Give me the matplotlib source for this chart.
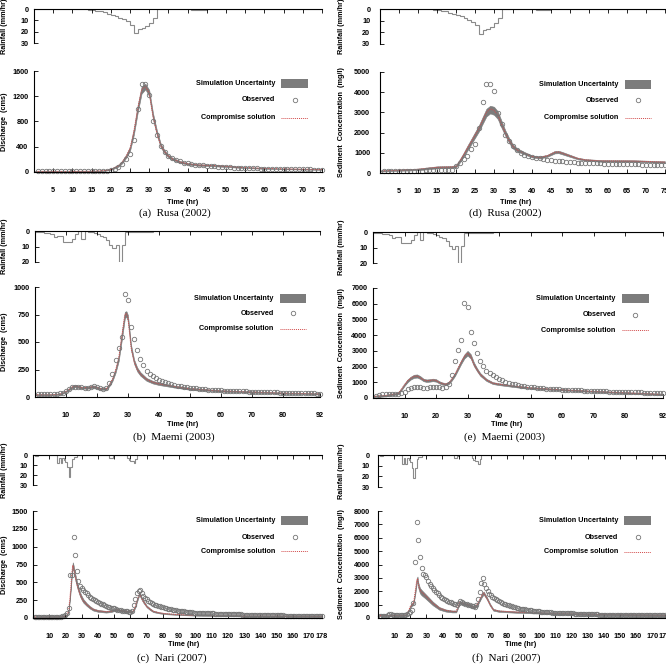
import numpy as np
import matplotlib
matplotlib.use('Agg')
import matplotlib.pyplot as plt
from matplotlib.patches import Rectangle
from matplotlib.lines import Line2D

#==========[Data]==========#
# ---- Rusa (2002), 75 h ----
rusa_rain_edges = [0, 14, 15, 16, 17, 18, 19, 20, 21, 22, 23, 24, 25, 26, 27, 28, 29, 30, 31, 32, 41, 43, 44, 45, 75]
rusa_rain = [0, 0.5, 1, 1.5, 2, 3, 4, 5, 6, 8, 9, 11, 14, 21, 18, 17, 15, 12, 8, 0, 1, 0.5, 1, 0]

rusa_q_obs = [12, 12, 12, 12, 12, 12, 12, 12, 12, 12,
              12, 12, 12, 12, 13, 14, 15, 18, 22, 35,
              50, 80, 130, 210, 290, 510, 1000, 1390, 1390, 1220,
              800, 590, 415, 310, 260, 220, 190, 170, 150, 135,
              125, 115, 110, 105, 100, 95, 90, 85, 80, 75,
              72, 70, 67, 64, 62, 60, 58, 56, 54, 52,
              50, 49, 48, 47, 46, 45, 44, 43, 42, 41,
              40, 40, 39, 39, 38]
rusa_q_t = [0, 5, 10, 15, 18, 20, 22, 23, 24, 25, 26, 27, 28, 29, 30, 31, 32, 33, 34, 35, 36, 38, 40, 43, 46, 50, 55, 60, 65, 70, 75]
rusa_q_comp = [10, 10, 10, 12, 20, 40, 100, 160, 250, 370, 640, 1000, 1300, 1360, 1250, 880, 620, 420, 320, 250, 210, 160, 130, 110, 105, 90, 70, 58, 50, 45, 40]
rusa_q_lo = [5, 5, 5, 8, 15, 32, 85, 140, 225, 335, 590, 940, 1240, 1310, 1200, 830, 580, 390, 295, 230, 192, 145, 118, 98, 93, 80, 62, 51, 44, 39, 34]
rusa_q_hi = [15, 15, 15, 18, 26, 48, 115, 180, 275, 405, 690, 1060, 1350, 1400, 1300, 930, 660, 450, 345, 270, 228, 175, 142, 122, 116, 100, 78, 65, 56, 51, 46]

rusa_s_obs = [100, 100, 100, 95, 95, 95, 100, 100, 105, 110,
              120, 130, 140, 150, 155, 160, 160, 165, 170, 330,
              490, 690, 820, 1200, 1440, 2245, 3525, 4390, 4420, 4065,
              2980, 2410, 1885, 1590, 1345, 1150, 1000, 900, 850, 800,
              760, 720, 690, 660, 630, 610, 590, 570, 550, 530,
              520, 510, 500, 495, 490, 485, 480, 475, 470, 465,
              460, 455, 450, 445, 440, 435, 430, 425, 420, 415,
              410, 400, 395, 390, 380]
rusa_s_t = [0, 5, 10, 15, 19, 20, 21, 22, 23, 24, 25, 26, 27, 28, 29, 30, 31, 32, 33, 34, 35, 36, 37, 38, 40, 42, 44, 46, 47, 48, 50, 52, 54, 58, 67, 75]
rusa_s_comp = [100, 140, 180, 280, 300, 330, 600, 900, 1230, 1550, 1880, 2200, 2600, 3000, 3180, 3100, 2870, 2400, 1970, 1600, 1310, 1150, 1065, 980, 820, 770, 850, 1030, 1040, 980, 850, 720, 650, 600, 590, 540]
rusa_s_lo = [70, 110, 140, 230, 250, 270, 520, 800, 1110, 1420, 1740, 2050, 2430, 2800, 2950, 2880, 2670, 2230, 1830, 1480, 1210, 1070, 995, 920, 770, 720, 800, 970, 980, 920, 800, 680, 610, 560, 550, 500]
rusa_s_hi = [130, 170, 220, 330, 350, 390, 680, 1000, 1350, 1680, 2020, 2350, 2770, 3180, 3330, 3280, 3050, 2570, 2100, 1720, 1410, 1230, 1135, 1040, 870, 820, 900, 1090, 1100, 1040, 900, 760, 690, 640, 630, 580]

# ---- Maemi (2003), 92 h ----
maemi_rain_edges = [0, 3, 5, 6, 7, 9, 12, 13, 14, 15, 16, 17, 19, 20, 21, 22, 23, 24, 25, 26, 27, 28, 29, 38, 92]
maemi_rain = [0.5, 1.5, 2, 4, 3, 7, 5, 2, 0, 5, 0.3, 0.5, 1.5, 2, 3, 4, 6, 9, 11, 9, 20, 9, 0.7, 0]

maemi_q_obs = [25, 26, 27, 27, 28, 28, 30, 32, 40, 55,
               75, 90, 95, 92, 88, 82, 85, 95, 97, 90,
               80, 75, 85, 130, 210, 335, 450, 550, 940, 880,
               640, 530, 430, 350, 290, 240, 210, 190, 170, 155,
               145, 135, 125, 118, 110, 104, 98, 93, 89, 85,
               82, 79, 76, 73, 70, 68, 66, 64, 62, 60,
               58, 57, 56, 55, 54, 53, 52, 51, 50, 49,
               48, 47, 46, 45, 44, 43, 42, 41, 40, 39,
               38, 37, 37, 36, 35, 35, 34, 33, 33, 32, 31, 30]
maemi_q_t = [0, 5, 8, 10, 12, 13, 15, 17, 19, 21, 23, 24, 25, 26, 27, 28, 29, 29.5, 30, 31, 32, 33, 34, 36, 38, 40, 45, 50, 60, 70, 80, 92]
maemi_q_comp = [20, 20, 25, 50, 90, 100, 85, 85, 95, 75, 75, 110, 160, 240, 350, 550, 750, 760, 720, 450, 320, 250, 210, 160, 135, 120, 95, 75, 55, 45, 35, 28]
maemi_q_lo = [15, 15, 20, 42, 80, 90, 76, 76, 85, 66, 66, 98, 145, 220, 325, 515, 715, 730, 690, 425, 300, 232, 194, 147, 123, 109, 86, 67, 49, 39, 30, 23]
maemi_q_hi = [25, 25, 30, 58, 100, 110, 94, 94, 105, 84, 84, 122, 175, 260, 375, 585, 775, 780, 745, 475, 340, 268, 226, 173, 147, 131, 104, 83, 61, 51, 40, 33]

maemi_s_obs = [150, 200, 250, 250, 260, 260, 270, 280, 300, 400,
               550, 650, 700, 700, 680, 650, 650, 700, 730, 720,
               680, 650, 700, 900, 1480, 2330, 3050, 3700, 6050, 5800,
               4230, 3480, 2880, 2380, 2020, 1750, 1600, 1450, 1320, 1200,
               1120, 1050, 980, 920, 870, 830, 790, 760, 730, 700,
               680, 660, 640, 620, 600, 590, 570, 560, 550, 540,
               530, 520, 510, 500, 490, 480, 470, 460, 455, 450,
               440, 430, 425, 420, 410, 405, 400, 390, 385, 380,
               375, 370, 365, 360, 355, 350, 345, 340, 335, 330, 320, 310]
maemi_s_t = [0, 4, 8, 9, 10, 11, 12, 13, 14, 15, 16, 17, 18, 19, 20, 21, 22, 23, 24, 25, 26, 27, 28, 29, 30, 31, 32, 33, 34, 36, 38, 40, 45, 50, 60, 70, 80, 92]
maemi_s_comp = [100, 150, 300, 550, 850, 1100, 1270, 1380, 1400, 1300, 1150, 1100, 1120, 1150, 1120, 1000, 920, 880, 950, 1200, 1500, 1900, 2300, 2650, 2850, 2650, 2150, 1800, 1500, 1150, 950, 880, 740, 640, 520, 420, 330, 230]
maemi_s_lo = [60, 100, 240, 480, 770, 1010, 1180, 1280, 1300, 1210, 1070, 1020, 1040, 1070, 1040, 930, 850, 810, 880, 1110, 1400, 1790, 2180, 2520, 2700, 2510, 2030, 1700, 1410, 1080, 890, 820, 690, 590, 480, 380, 290, 190]
maemi_s_hi = [140, 200, 360, 620, 930, 1190, 1360, 1480, 1500, 1390, 1230, 1180, 1200, 1230, 1200, 1070, 990, 950, 1020, 1290, 1600, 2010, 2420, 2780, 3000, 2790, 2270, 1900, 1590, 1220, 1010, 940, 790, 690, 560, 460, 370, 270]

# ---- Nari (2007), 178 h ----
nari_rain_edges = [0, 1, 3, 15, 16, 17, 18, 19, 20, 21, 22, 23, 24, 25, 27, 47, 49, 50, 58, 59, 60, 62, 63, 64, 178]
nari_rain = [0, 1, 0, 8, 3, 8, 3, 5, 7, 12, 22, 12, 4, 1.5, 0, 2.5, 1, 0.3, 3, 5, 6, 8, 4, 0]

nari_q_obs = [15, 15, 15, 15, 15, 15, 15, 16, 16, 16,
              17, 17, 17, 18, 18, 19, 20, 22, 28, 40,
              65, 140, 600, 600, 1140, 880, 660, 520, 450, 420,
              390, 370, 345, 320, 300, 285, 270, 255, 240, 225,
              210, 200, 190, 176, 168, 160, 153, 146, 140, 135,
              125, 118, 112, 107, 103, 99, 95, 92, 90, 88,
              95, 176, 260, 348, 380, 395, 348, 311, 285, 265,
              240, 218, 205, 195, 186, 178, 170, 163, 155, 150,
              145, 139, 133, 128, 122, 116, 112, 108, 105, 102,
              99, 96, 93, 90, 87, 84, 82, 79, 77, 75,
              74, 73, 72, 71, 70, 69, 68, 67, 66, 65,
              64, 63, 62, 61, 60, 59, 58, 57, 57, 56,
              56, 55, 55, 54, 53, 52, 51, 50, 49, 48,
              47, 46, 46, 45, 45, 44, 44, 43, 43, 42,
              42, 42, 41, 41, 40, 40, 39, 39, 38, 38,
              37, 37, 36, 36, 35, 35, 35, 34, 34, 34,
              33, 33, 33, 32, 32, 32, 31, 31, 31, 30,
              30, 30, 29, 29, 29, 28, 28, 28]
nari_q_t = [0, 10, 18, 20, 21, 22, 23, 24, 24.5, 25, 26, 27, 28, 29, 30, 31, 33, 35, 37, 40, 45, 48, 50, 52, 55, 58, 61, 62, 63, 64,
            65, 65.5, 66, 67, 68, 70, 72, 74, 78, 82, 90, 100, 120, 140, 160, 178]
nari_q_comp = [15, 15, 18, 25, 40, 110, 350, 650, 740, 700, 580, 480, 400, 330, 280, 240, 190, 150, 120, 100, 88, 95, 110, 115, 100, 92, 82, 110, 160, 240,
               310, 335, 320, 270, 230, 163, 125, 93, 72, 60, 48, 38, 30, 27, 25, 23]
nari_q_lo = [10, 10, 13, 20, 33, 95, 320, 610, 700, 660, 540, 440, 365, 300, 252, 215, 170, 133, 105, 87, 76, 83, 97, 102, 88, 80, 71, 97, 145, 222,
             290, 315, 300, 252, 212, 150, 113, 83, 64, 53, 42, 33, 25, 22, 20, 18]
nari_q_hi = [20, 20, 23, 30, 47, 125, 380, 690, 780, 740, 620, 520, 435, 360, 308, 265, 210, 167, 135, 113, 100, 107, 123, 128, 112, 104, 93, 123, 175, 258,
             330, 355, 340, 288, 248, 176, 137, 103, 80, 67, 54, 43, 35, 32, 30, 28]

nari_s_obs = [150, 150, 160, 170, 180, 250, 300, 300, 250, 200,
              200, 200, 200, 210, 220, 230, 250, 280, 350, 450,
              620, 1100, 4200, 7150, 5800, 4550, 3750, 3320, 3250, 3100,
              2800, 2570, 2400, 2230, 2100, 1980, 1850, 1730, 1600, 1485,
              1400, 1330, 1290, 1230, 1180, 1110, 1060, 1040, 1000, 1150,
              1240, 1200, 1110, 1060, 1020, 990, 940, 900, 866, 817,
              950, 1400, 1980, 2650, 2970, 2550, 2230, 2050, 1800, 1700,
              1600, 1500, 1410, 1330, 1240, 1180, 1120, 1080, 1040, 1000,
              950, 910, 866, 830, 800, 770, 740, 710, 690, 670,
              650, 630, 610, 590, 570, 555, 540, 525, 510, 495,
              480, 470, 460, 450, 440, 430, 420, 410, 400, 395,
              390, 385, 380, 375, 370, 365, 360, 355, 350, 345,
              340, 335, 330, 325, 320, 315, 310, 305, 300, 295,
              290, 285, 280, 275, 270, 265, 260, 255, 250, 248,
              245, 243, 240, 238, 235, 233, 230, 228, 226, 224,
              222, 220, 218, 216, 214, 212, 210, 208, 206, 205,
              204, 203, 202, 201, 200, 200, 199, 199, 198, 198,
              197, 197, 196, 196, 195, 195, 194, 194]
nari_s_t = [0, 10, 17, 18, 19, 20, 21, 22, 23, 24, 24.5, 25, 26, 27, 29, 31, 34, 38, 42, 46, 48.5, 49.5, 50.5, 52.5, 56, 60, 62, 64, 65.5,
            67.5, 69.5, 71.5, 75, 86, 96, 117, 137, 178]
nari_s_comp = [180, 190, 200, 300, 550, 850, 1000, 1100, 1900, 2800, 2950, 2500, 2100, 1950, 1730, 1480, 1110, 740, 570, 500, 500, 800, 1150, 1110, 990, 800, 1100, 1600, 1880,
               1480, 990, 620, 520, 445, 400, 320, 270, 200]
nari_s_lo = [140, 150, 160, 250, 480, 760, 900, 1000, 1700, 2550, 2750, 2250, 1850, 1700, 1500, 1280, 950, 620, 480, 420, 420, 700, 1050, 1010, 900, 720, 1000, 1480, 1760,
             1380, 900, 550, 460, 390, 350, 280, 230, 160]
nari_s_hi = [220, 230, 240, 350, 620, 940, 1100, 1200, 2050, 2950, 3100, 2650, 2250, 2100, 1850, 1600, 1220, 820, 640, 560, 560, 880, 1230, 1200, 1070, 860, 1180, 1700, 1980,
             1580, 1070, 680, 570, 490, 440, 350, 300, 230]

rusa_xticks = [5, 10, 15, 20, 25, 30, 35, 40, 45, 50, 55, 60, 65, 70, 75]
maemi_xticks = [10, 20, 30, 40, 50, 60, 70, 80, 92]
nari_xticks = [10, 20, 30, 40, 50, 60, 70, 80, 90, 100, 110, 120, 130, 140, 150, 160, 170, 178]

#==========[Style]==========#
W, H = 666, 668
plt.rcParams['font.family'] = ['Liberation Sans', 'DejaVu Sans']
plt.rcParams['font.weight'] = 'bold'
FS = 5.2
BAND = '#7c7c7c'
RED = '#d24a4a'
OBS = '#767676'
MS = 3.2

fig = plt.figure(figsize=(W / 100, H / 100), dpi=100)


def box(x0, y0, x1, y1):
    # pixel box (top-left origin) -> figure fraction
    return [x0 / W, 1 - y1 / H, (x1 - x0) / W, (y1 - y0) / H]


def fig_text(x, y, s, **kw):
    fig.text(x / W, 1 - y / H, s, ha='center', va='center', **kw)


def panel(rbox, mbox, redges, rvals, rmax, obs, ts, lo, comp, hi, xmax, xticks,
          ymax, ystep, ylabel, lab_px, ypad, time_xy, cap, cap_xy, leg_y):
    # rainfall hyetograph (inverted)
    ax_r = fig.add_axes(box(*rbox))
    ax_r.stairs(rvals, redges, baseline=0, color='#8a8a8a', lw=0.8)
    ax_r.set_xlim(0, xmax)
    ax_r.set_ylim(rmax, 0)
    ax_r.set_yticks(range(0, rmax + 1, 10))
    ax_r.set_xticks(xticks)
    ax_r.xaxis.tick_top()
    ax_r.tick_params(axis='x', direction='in', length=3, width=0.6, labeltop=False)
    ax_r.tick_params(axis='y', direction='in', length=3, width=0.6, labelsize=FS, pad=ypad)
    for s in ['bottom', 'right']:
        ax_r.spines[s].set_visible(False)
    for s in ['top', 'left']:
        ax_r.spines[s].set_linewidth(0.8)
    ax_r.set_ylabel('Rainfall (mm/hr)', fontsize=FS, fontweight='bold')
    ax_r.yaxis.set_label_coords((lab_px - rbox[0]) / (rbox[2] - rbox[0]), 0.5)

    # discharge / sediment
    ax = fig.add_axes(box(*mbox))
    hrs = np.arange(1, len(obs) + 1)
    ax.fill_between(ts, lo, hi, color=BAND, lw=0.4)
    ax.plot(ts, comp, color=RED, ls=(0, (1, 1)), lw=0.7)
    ax.plot(hrs, obs, ls='none', marker='o', ms=MS, mfc='none', mec=OBS, mew=0.6, clip_on=False)
    ax.set_xlim(0, xmax)
    ax.set_ylim(0, ymax)
    ax.set_xticks(xticks)
    ax.set_yticks(np.arange(0, ymax + 1, ystep))
    ax.tick_params(axis='x', direction='in', length=3, width=0.6, labelsize=FS, pad=10.5)
    ax.tick_params(axis='y', direction='in', length=3, width=0.6, labelsize=FS, pad=ypad)
    for s in ['top', 'right']:
        ax.spines[s].set_visible(False)
    for s in ['bottom', 'left']:
        ax.spines[s].set_linewidth(0.8)
    ax.set_ylabel(ylabel, fontsize=FS, fontweight='bold')
    ax.yaxis.set_label_coords((lab_px - mbox[0]) / (mbox[2] - mbox[0]), 0.5)

    # legend, drawn by hand (text right-aligned, key on the right)
    hpx = mbox[3] - mbox[1]
    bh = 9 / hpx
    tx, bx0, bx1 = 0.837, 0.858, 0.952
    labels = ['Simulation Uncertainty', 'Observed', 'Compromise solution']
    for yy, lab in zip(leg_y, labels):
        ax.text(tx, yy, lab, transform=ax.transAxes, ha='right', va='center', fontsize=FS)
    ax.add_patch(Rectangle((bx0, leg_y[0] - bh / 2), bx1 - bx0, bh, transform=ax.transAxes,
                           color=BAND, lw=0))
    ax.add_line(Line2D([(bx0 + bx1) / 2], [leg_y[1]], transform=ax.transAxes, ls='none',
                       marker='o', ms=MS, mfc='none', mec=OBS, mew=0.6))
    ax.add_line(Line2D([bx0, bx1], [leg_y[2], leg_y[2]], transform=ax.transAxes,
                       color=RED, ls=(0, (1, 1)), lw=0.7))

    fig_text(*time_xy, 'Time (hr)', fontsize=FS, fontweight='bold')
    fig_text(*cap_xy, cap, fontsize=8, fontweight='normal', family=['Liberation Serif', 'DejaVu Serif'])


# (a) Rusa discharge
panel((34, 9, 322, 43), (34, 71, 322, 172), rusa_rain_edges, rusa_rain, 30,
      rusa_q_obs, rusa_q_t, rusa_q_lo, rusa_q_comp, rusa_q_hi, 75, rusa_xticks,
      1600, 400, 'Discharge  (cms)', 8.5, 4, (183, 202), '(a)  Rusa (2002)', (175, 213),
      [0.88, 0.713, 0.535])
# (d) Rusa sediment
panel((380, 9, 665, 44), (380, 72, 665, 173), rusa_rain_edges, rusa_rain, 30,
      rusa_s_obs, rusa_s_t, rusa_s_lo, rusa_s_comp, rusa_s_hi, 75, rusa_xticks,
      5000, 1000, 'Sediment  Concentration  (mg/l)', 345, 7, (516, 202), '(d)  Rusa (2002)', (505, 213),
      [0.88, 0.72, 0.545])
# (b) Maemi discharge
panel((35, 231, 320, 262), (35, 287, 320, 397), maemi_rain_edges, maemi_rain, 20,
      maemi_q_obs, maemi_q_t, maemi_q_lo, maemi_q_comp, maemi_q_hi, 92, maemi_xticks,
      1000, 250, 'Discharge  (cms)', 8.5, 4, (183, 424), '(b)  Maemi (2003)', (174, 437),
      [0.9, 0.76, 0.62])
# (e) Maemi sediment
panel((373, 232, 663, 263), (373, 288, 663, 398), maemi_rain_edges, maemi_rain, 20,
      maemi_s_obs, maemi_s_t, maemi_s_lo, maemi_s_comp, maemi_s_hi, 92, maemi_xticks,
      7000, 1000, 'Sediment  Concentration  (mg/l)', 345, 4, (507, 424), '(e)  Maemi (2003)', (505, 437),
      [0.9, 0.755, 0.618])
# (c) Nari discharge
panel((33, 455, 322, 485), (33, 511, 322, 618), nari_rain_edges, nari_rain, 30,
      nari_q_obs, nari_q_t, nari_q_lo, nari_q_comp, nari_q_hi, 178, nari_xticks,
      1500, 250, 'Discharge  (cms)', 8.5, 4, (184, 645), '(c)  Nari (2007)', (172, 658),
      [0.907, 0.757, 0.626])
# (f) Nari sediment
panel((378, 455, 665, 487), (378, 511, 665, 618), nari_rain_edges, nari_rain, 30,
      nari_s_obs, nari_s_t, nari_s_lo, nari_s_comp, nari_s_hi, 178, nari_xticks,
      8000, 1000, 'Sediment  Concentration  (mg/l)', 345, 6, (521, 645), '(f)  Nari (2007)', (506, 658),
      [0.907, 0.757, 0.617])

fig.savefig('out.png', dpi=100)
